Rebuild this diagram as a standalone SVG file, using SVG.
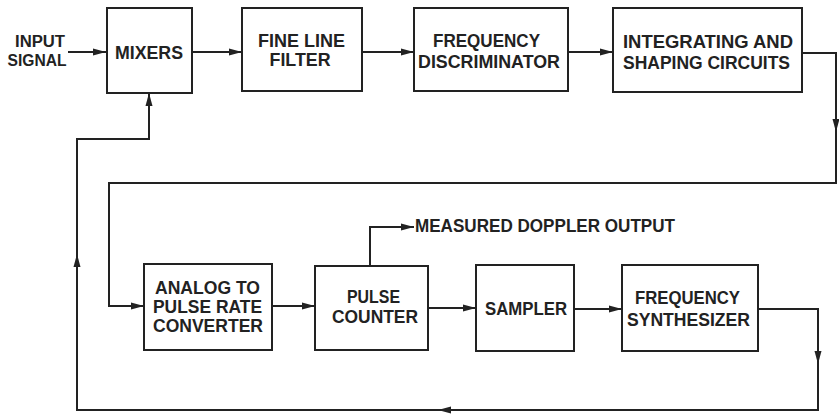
<svg xmlns="http://www.w3.org/2000/svg" width="839" height="415" viewBox="0 0 839 415">
<style>
.box{fill:#fff;stroke:#222;stroke-width:2}
.ln{fill:none;stroke:#222;stroke-width:2}
text{font-family:"Liberation Sans",Arial,sans-serif;font-weight:bold;font-size:17.5px;fill:#222;text-anchor:middle}
.l{text-anchor:start}
.s{font-size:16px}
</style>
<defs>
<marker id="ah" markerUnits="userSpaceOnUse" markerWidth="14" markerHeight="8" refX="13" refY="4" orient="auto">
<path d="M0,0.5 L13,4 L0,7.5 z" fill="#222"/>
</marker>
</defs>
<g id="connectors">
<path class="ln" d="M68,52 H106" marker-end="url(#ah)"/>
<path class="ln" d="M192,52 H242" marker-end="url(#ah)"/>
<path class="ln" d="M362,52 H414" marker-end="url(#ah)"/>
<path class="ln" d="M568,52 H613" marker-end="url(#ah)"/>
<path class="ln" d="M802,53 H836 V132" marker-end="url(#ah)"/>
<path class="ln" d="M836,130 V183 H109 V306 H144" marker-end="url(#ah)"/>
<path class="ln" d="M272,306 H315" marker-end="url(#ah)"/>
<path class="ln" d="M428,308 H476" marker-end="url(#ah)"/>
<path class="ln" d="M574,309 H622" marker-end="url(#ah)"/>
<path class="ln" d="M370,266 V227 H414" marker-end="url(#ah)"/>
<path class="ln" d="M758,309 H818 V364" marker-end="url(#ah)"/>
<path class="ln" d="M818,362 V410 H438" marker-end="url(#ah)"/>
<path class="ln" d="M440,410 H77 V254" marker-end="url(#ah)"/>
<path class="ln" d="M77,256 V139 H149 V93" marker-end="url(#ah)"/>
</g>
<g id="input">
<text class="s" x="40" y="47" textLength="50" lengthAdjust="spacingAndGlyphs">INPUT</text>
<text class="s" x="37" y="66" textLength="59" lengthAdjust="spacingAndGlyphs">SIGNAL</text>
</g>
<g id="mixers">
<rect class="box" x="107" y="8" width="85" height="85"/>
<text x="149" y="59" textLength="68" lengthAdjust="spacingAndGlyphs">MIXERS</text>
</g>
<g id="filter">
<rect class="box" x="242" y="8" width="120" height="83"/>
<text x="301.5" y="47" textLength="87" lengthAdjust="spacingAndGlyphs">FINE LINE</text>
<text x="300" y="66" textLength="61" lengthAdjust="spacingAndGlyphs">FILTER</text>
</g>
<g id="discriminator">
<rect class="box" x="414" y="8" width="154" height="83"/>
<text x="486.5" y="47" textLength="107" lengthAdjust="spacingAndGlyphs">FREQUENCY</text>
<text x="489" y="68" textLength="142" lengthAdjust="spacingAndGlyphs">DISCRIMINATOR</text>
</g>
<g id="integrating">
<rect class="box" x="613" y="8" width="189" height="84"/>
<text x="708" y="48" textLength="170" lengthAdjust="spacingAndGlyphs">INTEGRATING AND</text>
<text x="706.5" y="69" textLength="167" lengthAdjust="spacingAndGlyphs">SHAPING CIRCUITS</text>
</g>
<g id="analog">
<rect class="box" x="144" y="264" width="128" height="86"/>
<text x="207.5" y="294" textLength="105" lengthAdjust="spacingAndGlyphs">ANALOG TO</text>
<text x="207.5" y="313" textLength="109" lengthAdjust="spacingAndGlyphs">PULSE RATE</text>
<text x="208" y="332" textLength="110" lengthAdjust="spacingAndGlyphs">CONVERTER</text>
</g>
<g id="counter">
<rect class="box" x="315" y="266" width="113" height="84"/>
<text x="373.5" y="303" textLength="53" lengthAdjust="spacingAndGlyphs">PULSE</text>
<text x="375" y="323" textLength="86" lengthAdjust="spacingAndGlyphs">COUNTER</text>
</g>
<g id="sampler">
<rect class="box" x="476" y="265" width="98" height="86"/>
<text x="526" y="315" textLength="82" lengthAdjust="spacingAndGlyphs">SAMPLER</text>
</g>
<g id="synthesizer">
<rect class="box" x="622" y="265" width="136" height="86"/>
<text x="687.5" y="304" textLength="105" lengthAdjust="spacingAndGlyphs">FREQUENCY</text>
<text x="688.5" y="326" textLength="123" lengthAdjust="spacingAndGlyphs">SYNTHESIZER</text>
</g>
<g id="output">
<text class="l" x="415" y="232" textLength="260" lengthAdjust="spacingAndGlyphs">MEASURED DOPPLER OUTPUT</text>
</g>
</svg>
